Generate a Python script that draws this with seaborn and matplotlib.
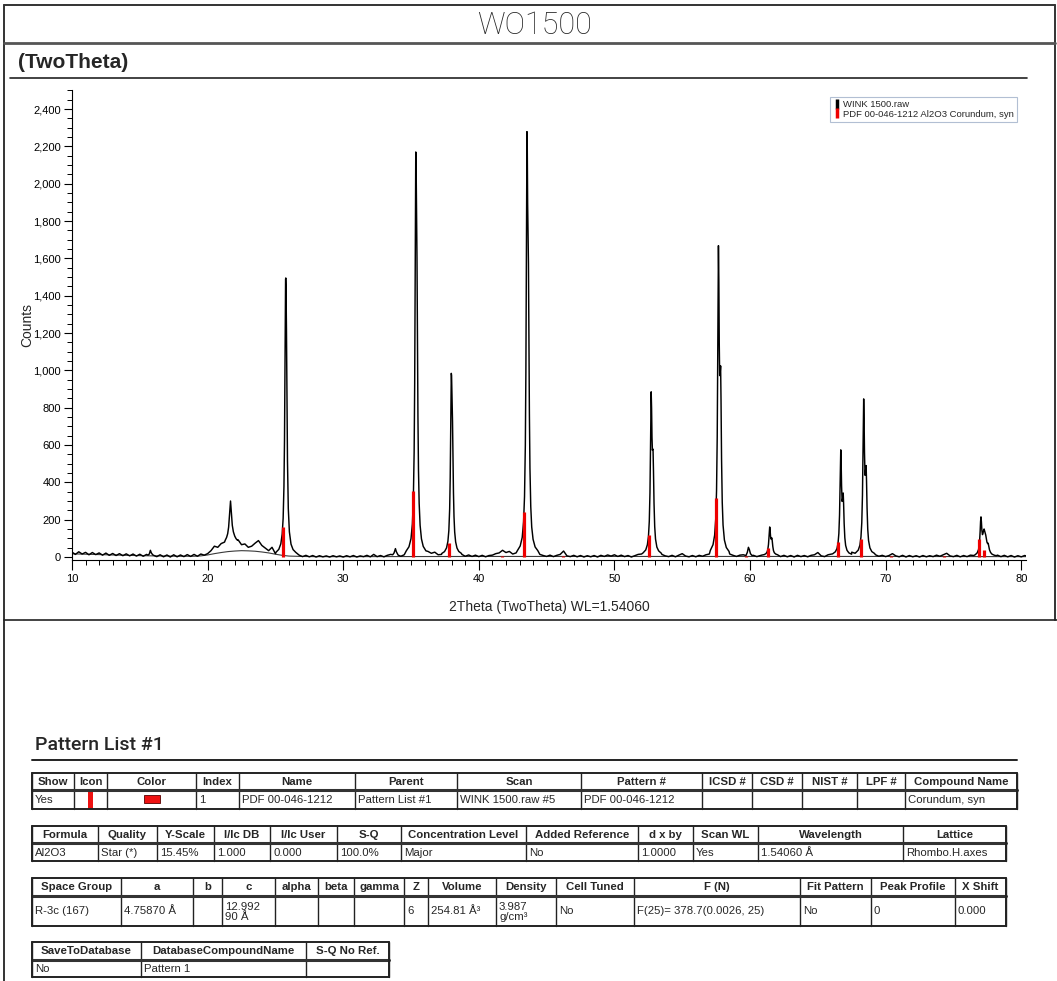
import numpy as np
import pandas as pd
import matplotlib
matplotlib.use("Agg")
import matplotlib.pyplot as plt
from matplotlib.lines import Line2D
from matplotlib.patches import Rectangle
from matplotlib.ticker import MultipleLocator, FuncFormatter
import seaborn as sns

# ---------------------------------------------------------------- data
# measured scan: background counts on a 0.25 deg grid starting at 10 deg
scan_start = 10.0
scan_step = 0.25
scan_background = [
    26, 14, 28, 16, 25, 12, 24, 13, 22, 10, 21, 9, 19, 8, 18, 7, 17, 6, 16, 5,
    15, 4, 14, 30, 13, 2, 12, 1, 11, 0, 12, 1, 11, 2, 13, 3, 14, 4, 16, 10,
    18, 34, 58, 52, 72, 80, 150, 250, 110, 92, 66, 70, 52, 58, 74, 88, 62, 48, 34, 52,
    18, 28, 30, 30, 30, 30, 30, 10, 2, 9, 1, 8, 0, 7, 1, 6, 0, 7, 1, 6,
    0, 7, 1, 8, 0, 6, 2, 9, 1, 14, 2, 8, 1, 9, 14, 30, 12, 4, 12, 20,
    20, 20, 20, 20, 20, 30, 20, 26, 12, 14, 20, 20, 20, 20, 20, 14, 4, 11, 3, 10,
    2, 9, 1, 8, 10, 18, 22, 36, 24, 30, 16, 22, 20, 20, 20, 20, 20, 20, 14, 8,
    3, 10, 2, 9, 14, 32, 6, 2, 9, 1, 8, 0, 7, 1, 8, 0, 9, 3, 11, 5,
    12, 3, 10, 2, 8, 0, 7, 14, 16, 20, 20, 20, 20, 20, 14, 6, 2, 9, 1, 10,
    18, 5, 1, 8, 1, 9, 4, 12, 16, 20, 20, 20, 20, 20, 16, 9, 3, 10, 12, 20,
    20, 9, 2, 8, 20, 20, 20, 20, 20, 2, 9, 1, 8, 0, 9, 2, 8, 1, 9, 12,
    24, 6, 2, 12, 16, 20, 20, 20, 20, 20, 26, 20, 20, 20, 20, 20, 20, 12, 4, 9,
    2, 8, 18, 6, 1, 9, 0, 8, 1, 7, 0, 8, 1, 7, 2, 10, 4, 12, 20, 6,
    2, 9, 1, 8, 2, 10, 8, 20, 20, 20, 20, 20, 20, 10, 2, 9, 1, 8, 0, 7,
    1, 8, 3,
]

# reflections of the scan (K-alpha1 + K-alpha2 doublets): (2theta, counts)
peak_profiles = {
    "15.8": ([15.60, 15.70, 15.78, 15.85, 15.95, 16.05],
             [10, 16, 36, 22, 12, 8]),
    "21.7": ([21.30, 21.40, 21.48, 21.55, 21.62, 21.69, 21.75, 21.82, 21.90, 22.00, 22.10, 22.20],
             [90, 105, 125, 160, 230, 300, 240, 170, 135, 112, 98, 90]),
    "25.8": ([25.05, 25.25, 25.40, 25.50, 25.57, 25.63, 25.67, 25.71, 25.75, 25.765,
              25.78, 25.815, 25.85, 25.89, 25.95, 26.03, 26.15, 26.30, 26.50],
             [26, 41, 71, 123, 207, 379, 626, 1068, 1488, 1495,
              1460, 1218, 859, 514, 260, 135, 69, 40, 25]),
    "33.9": ([33.65, 33.75, 33.85, 33.92, 34.05],
             [12, 22, 45, 28, 10]),
    "35.4": ([34.65, 34.85, 35.00, 35.10, 35.17, 35.23, 35.27, 35.31, 35.35, 35.37, 35.39,
              35.42, 35.44, 35.47, 35.51, 35.55, 35.60, 35.67, 35.77, 35.90, 36.10],
             [33, 55, 99, 177, 304, 561, 930, 1584, 2170, 2144, 1981,
              1759, 1602, 1239, 755, 468, 288, 170, 97, 57, 33]),
    "38.0": ([37.27, 37.47, 37.62, 37.72, 37.79, 37.85, 37.89, 37.93, 37.97, 37.99, 38.01,
              38.04, 38.06, 38.09, 38.13, 38.17, 38.22, 38.29, 38.39, 38.52, 38.72],
             [19, 29, 49, 84, 142, 258, 424, 720, 984, 973, 899,
              799, 728, 564, 345, 216, 134, 81, 48, 30, 19]),
    "43.6": ([42.85, 43.05, 43.20, 43.30, 43.37, 43.43, 43.47, 43.51, 43.55, 43.57, 43.60,
              43.63, 43.66, 43.69, 43.73, 43.77, 43.83, 43.90, 44.00, 44.15, 44.35],
             [35, 59, 105, 189, 324, 598, 989, 1683, 2279, 2219, 1894,
              1709, 1572, 1245, 764, 476, 270, 161, 95, 54, 34]),
    "52.7": ([52.11, 52.31, 52.43, 52.51, 52.57, 52.62, 52.66, 52.69, 52.71, 52.74, 52.77,
              52.80, 52.83, 52.85, 52.88, 52.92, 52.97, 53.03, 53.13, 53.26, 53.46],
             [22, 38, 66, 111, 191, 343, 583, 809, 885, 796, 640,
              572, 579, 566, 460, 287, 163, 96, 53, 33, 20]),
    "57.7": ([57.07, 57.27, 57.39, 57.47, 57.53, 57.58, 57.62, 57.65, 57.67, 57.70, 57.73,
              57.76, 57.79, 57.83, 57.86, 57.90, 57.95, 58.01, 58.11, 58.25, 58.45],
             [35, 66, 117, 203, 355, 644, 1102, 1530, 1668, 1480, 1145,
              972, 978, 1024, 843, 523, 294, 171, 91, 51, 30]),
    "59.9": ([59.70, 59.80, 59.88, 59.95, 60.03, 60.15],
             [8, 25, 52, 40, 18, 8]),
    "61.5": ([60.85, 61.05, 61.17, 61.25, 61.31, 61.36, 61.40, 61.43, 61.45, 61.48,
              61.51, 61.54, 61.57, 61.61, 61.64, 61.68, 61.73, 61.79, 61.89, 62.03],
             [10, 13, 18, 26, 40, 67, 109, 149, 161, 144,
              113, 97, 98, 102, 85, 56, 34, 23, 16, 12]),
    "66.7": ([66.09, 66.29, 66.41, 66.49, 66.55, 66.60, 66.64, 66.67, 66.69, 66.72, 66.75,
              66.79, 66.83, 66.87, 66.90, 66.94, 66.99, 67.05, 67.15, 67.29, 67.49],
             [17, 28, 45, 75, 126, 225, 382, 528, 574, 504, 381,
              298, 314, 343, 286, 180, 103, 62, 36, 22, 15]),
    "68.4": ([67.78, 67.98, 68.10, 68.18, 68.24, 68.29, 68.33, 68.36, 68.38, 68.41, 68.44,
              68.48, 68.52, 68.56, 68.59, 68.63, 68.68, 68.74, 68.84, 68.98, 69.18],
             [22, 37, 63, 107, 184, 330, 563, 779, 847, 744, 561,
              438, 462, 490, 410, 262, 149, 88, 49, 29, 19]),
    "77.1": ([76.60, 76.75, 76.85, 76.92, 76.97, 77.00, 77.03, 77.06, 77.10, 77.14, 77.18,
              77.22, 77.26, 77.30, 77.34, 77.38, 77.42, 77.47, 77.52, 77.56, 77.60,
              77.66, 77.74, 77.85, 78.00, 78.15],
             [12, 22, 40, 75, 140, 190, 215, 190, 140, 120, 128,
              142, 150, 140, 128, 118, 100, 80, 72, 74, 60,
              38, 24, 15, 10, 7]),
}

# fitted background of the scan
fit_two_theta = [10, 12, 14, 16, 18, 19, 19.5, 20, 20.5, 21, 21.5, 22, 22.5, 23, 23.5,
                 24, 24.5, 25, 25.5, 26, 27, 28, 30, 40, 50, 60, 70, 80.4]
fit_counts = [17, 13, 9, 6, 4, 4, 6, 11, 18, 24, 29, 32, 34, 33, 31,
              27, 22, 15, 9, 5, 3, 2, 2, 3, 3, 3, 3, 2]

# reference pattern PDF 00-046-1212 (Al2O3, corundum), scaled sticks
pdf_two_theta = [25.578, 35.152, 37.776, 41.675, 43.355, 46.175, 52.549, 57.496,
                 59.739, 61.298, 66.519, 68.212, 70.418, 74.297, 76.869, 77.224]
pdf_counts = [160, 355, 77, 7, 240, 4, 120, 318, 4, 46, 82, 96, 4, 7, 95, 40]

legend_labels = ["WINK 1500.raw", "PDF 00-046-1212 Al2O3 Corundum, syn"]

# tables below the plot
t1_headers = ["Show", "Icon", "Color", "Index", "Name", "Parent", "Scan", "Pattern #",
              "ICSD #", "CSD #", "NIST #", "LPF #", "Compound Name"]
t1_values = ["Yes", "", "", "1", "PDF 00-046-1212", "Pattern List #1", "WINK 1500.raw #5",
             "PDF 00-046-1212", "", "", "", "", "Corundum, syn"]
t2_headers = ["Formula", "Quality", "Y-Scale", "I/Ic DB", "I/Ic User", "S-Q",
              "Concentration Level", "Added Reference", "d x by", "Scan WL", "Wavelength", "Lattice"]
t2_values = ["Al2O3", "Star (*)", "15.45%", "1.000", "0.000", "100.0%", "Major", "No",
             "1.0000", "Yes", "1.54060 Å", "Rhombo.H.axes"]
t3_headers = ["Space Group", "a", "b", "c", "alpha", "beta", "gamma", "Z", "Volume", "Density",
              "Cell Tuned", "F (N)", "Fit Pattern", "Peak Profile", "X Shift"]
t3_values = ["R-3c (167)", "4.75870 Å", "", "12.992\n90 Å", "", "", "", "6", "254.81 Å³",
             "3.987\ng/cm³", "No", "F(25)= 378.7(0.0026, 25)", "No", "0", "0.000"]
t4_headers = ["SaveToDatabase", "DatabaseCompoundName", "S-Q No Ref."]
t4_values = ["No", "Pattern 1", ""]

# ---------------------------------------------------------------- assemble the scan trace
grid_x = scan_start + scan_step * np.arange(len(scan_background))
grid_y = np.asarray(scan_background, dtype=float)
keep = np.ones(len(grid_x), dtype=bool)
px, py = [], []
for xs, ys in peak_profiles.values():
    keep &= ~((grid_x >= xs[0]) & (grid_x <= xs[-1]))
    px.extend(xs)
    py.extend(ys)
scan = pd.DataFrame({
    "two_theta": np.concatenate([grid_x[keep], px]),
    "counts": np.concatenate([grid_y[keep], py]),
}).sort_values("two_theta")
fit = pd.DataFrame({"two_theta": fit_two_theta, "counts": fit_counts})

# ---------------------------------------------------------------- figure
sns.set_style("ticks")
plt.rcParams["font.family"] = ["Liberation Sans", "DejaVu Sans"]
W, H = 1057, 981
fig = plt.figure(figsize=(W / 100, H / 100), dpi=100)

page = fig.add_axes([0, 0, 1, 1], zorder=0)
page.set_xlim(0, W)
page.set_ylim(H, 0)
page.axis("off")

frame = "#333333"
page.plot([4, 1055], [5, 5], color=frame, lw=1.4)
page.plot([4, 4], [5, H], color=frame, lw=1.4)
page.plot([1055, 1055], [5, 620], color=frame, lw=1.4)
page.plot([4, 1055], [43, 43], color="#555555", lw=2.0)
page.plot([10, 1027], [78, 78], color="#222222", lw=1.2)
page.plot([4, W], [620, 620], color="#222222", lw=1.2)
page.plot([32, 1017], [760, 760], color="#222222", lw=1.4)

page.text(535, 26, "WO1500", ha="center", va="center", fontsize=22,
          family=["Roboto", "DejaVu Sans"], fontweight="light")
page.text(18, 62, "(TwoTheta)", ha="left", va="center", fontsize=15, fontweight="bold")
page.text(35, 745, "Pattern List #1", ha="left", va="center", fontsize=14,
          family=["Roboto", "DejaVu Sans"], fontweight="medium")
page.text(27, 325, "Counts", ha="center", va="center", rotation=90, fontsize=10)
page.text(549, 607, "2Theta (TwoTheta) WL=1.54060", ha="center", va="center", fontsize=10)


def draw_table(edges, rows, headers, values):
    top, mid, bottom = rows
    x0, x1 = edges[0], edges[-1]
    for x in edges:
        page.plot([x, x], [top, bottom], color="#222222", lw=1.0)
    page.plot([x0, x1], [top, top], color="#222222", lw=1.4)
    page.plot([x0, x1], [bottom, bottom], color="#222222", lw=1.4)
    page.plot([x0, x1], [mid, mid], color="#333333", lw=2.2)
    page.plot([x0, x0], [top, bottom], color="#222222", lw=1.4)
    page.plot([x1, x1], [top, bottom], color="#222222", lw=1.4)
    for i, (h, v) in enumerate(zip(headers, values)):
        cx = (edges[i] + edges[i + 1]) / 2
        page.text(cx, (top + mid) / 2 + 0.5, h, ha="center", va="center",
                  fontsize=8.2, fontweight="bold")
        if v:
            page.text(edges[i] + 3, (mid + bottom) / 2 + 0.5, v, ha="left", va="center",
                      fontsize=8.2, linespacing=1.0)


draw_table([32, 74, 107, 196, 239, 355, 457, 581, 702, 752, 802, 857, 905, 1017],
           (773, 790, 809), t1_headers, t1_values)
page.add_patch(Rectangle((87.5, 790.5), 5, 18, color="#ee1111", lw=0))
page.add_patch(Rectangle((144, 795), 16, 8, facecolor="#ee1111", edgecolor="#550000", lw=0.6))

draw_table([32, 98, 157, 214, 270, 337, 401, 526, 638, 693, 758, 903, 1006],
           (826, 843, 861), t2_headers, t2_values)
draw_table([32, 121, 193, 222, 275, 318, 354, 404, 428, 496, 556, 634, 800, 871, 955, 1006],
           (878, 896, 926), t3_headers, t3_values)
draw_table([32, 141, 306, 389], (942, 960, 977), t4_headers, t4_values)

# ---------------------------------------------------------------- diffractogram
ax_l, ax_r, ax_t, ax_b = 72, 1026, 90, 560
ax = fig.add_axes([ax_l / W, 1 - ax_b / H, (ax_r - ax_l) / W, (ax_b - ax_t) / H], zorder=2)
ax.set_facecolor("none")

sns.lineplot(data=fit, x="two_theta", y="counts", ax=ax, color="#3a3a3a", lw=0.8,
             estimator=None, sort=False)
sns.lineplot(data=scan, x="two_theta", y="counts", ax=ax, color="black", lw=1.05,
             estimator=None, sort=False)
ax.vlines(pdf_two_theta, 0, pdf_counts, color="#ee0000", lw=2.3, zorder=3)

ax.set_xlim(10, 80.35)
ax.set_ylim(-16, 2502)
ax.set_xlabel("")
ax.set_ylabel("")
for side in ("top", "right"):
    ax.spines[side].set_visible(False)
for side in ("left", "bottom"):
    ax.spines[side].set_color("black")
    ax.spines[side].set_linewidth(0.8)

ax.xaxis.set_major_locator(MultipleLocator(10))
ax.xaxis.set_minor_locator(MultipleLocator(1))
ax.yaxis.set_minor_locator(MultipleLocator(50))
ax.set_yticks(np.arange(0, 2401, 200))
ax.yaxis.set_major_formatter(FuncFormatter(lambda v, _: f"{v:,.0f}"))
ax.tick_params(axis="both", which="major", direction="out", color="black", width=0.8,
               labelsize=8, labelcolor="black")
ax.tick_params(axis="x", which="major", length=7, pad=3)
ax.tick_params(axis="y", which="major", length=6, pad=2)
ax.tick_params(axis="both", which="minor", direction="out", length=3.5, width=0.7, color="black")

handles = [
    Line2D([], [], color="black", marker="|", linestyle="None", markersize=7, markeredgewidth=2.5),
    Line2D([], [], color="#ee0000", marker="|", linestyle="None", markersize=7, markeredgewidth=2.5),
]
leg = ax.legend(handles, legend_labels, loc="upper right",
                bbox_to_anchor=((1017 - ax_l) / (ax_r - ax_l), 1 - (97 - ax_t) / (ax_b - ax_t)),
                fontsize=6.8, frameon=True, fancybox=False, borderaxespad=0,
                borderpad=0.3, handletextpad=0.3, handlelength=0.8, labelspacing=0.1)
leg.get_frame().set_edgecolor("#9fb0c9")
leg.get_frame().set_linewidth(0.8)

fig.savefig("out.png", dpi=100)
